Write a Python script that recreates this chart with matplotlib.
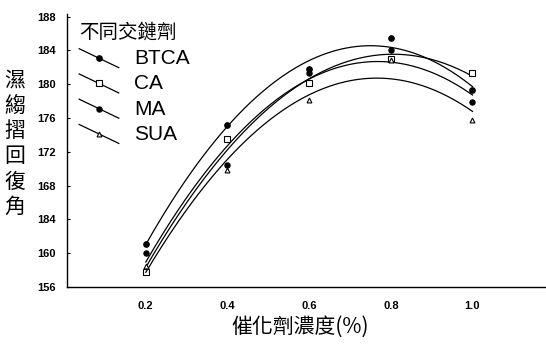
"""Wrinkle recovery angle vs. catalyst concentration for four crosslinkers."""

import matplotlib.pyplot as plt
import numpy as np
from matplotlib.legend_handler import HandlerLine2D
from matplotlib.lines import Line2D

plt.rcParams["font.family"] = ["Liberation Sans", "DejaVu Sans"]
CJK = ["Noto Sans CJK TC", "DejaVu Sans"]

concentration = [0.2, 0.4, 0.6, 0.8, 1.0]
btca = [161.1, 175.2, 181.8, 185.5, 179.3]
ca = [157.8, 173.5, 180.1, 183.0, 181.3]
ma = [160.0, 170.4, 181.3, 184.0, 177.9]
sua = [158.5, 169.8, 178.1, 182.8, 175.8]

series_names = ["BTCA", "CA", "MA", "SUA"]
y_ticks = [156, 160, 164, 168, 172, 176, 180, 184, 188]
y_tick_labels = ["156", "160", "184", "168", "172", "176", "180", "184", "188"]
x_ticks = [0.2, 0.4, 0.6, 0.8, 1.0]
x_tick_labels = ["0.2", "0.4", "0.6", "0.8", "1.0"]


class SlantHandler(HandlerLine2D):
    """Legend handle drawn as a short falling line with the marker in the middle."""

    def create_artists(self, legend, orig_handle, xdescent, ydescent,
                       width, height, fontsize, trans):
        x0, x1 = -xdescent, -xdescent + width
        y0, y1 = -ydescent + height * 1.05, -ydescent - height * 0.25
        line = Line2D([x0, x1], [y0, y1], color="black", lw=0.9, transform=trans)
        mark = Line2D([(x0 + x1) / 2], [(y0 + y1) / 2], linestyle="none",
                      marker=orig_handle.get_marker(),
                      markersize=orig_handle.get_markersize(),
                      markerfacecolor=orig_handle.get_markerfacecolor(),
                      markeredgecolor="black", markeredgewidth=0.8,
                      transform=trans)
        return [line, mark]


fig = plt.figure(figsize=(5.46, 3.46), dpi=100)
ax = fig.add_axes([0.1227, 0.1705, 0.8773, 0.789])

styles = [
    dict(marker="o", mfc="black", ms=4),
    dict(marker="s", mfc="white", ms=4),
    dict(marker="o", mfc="black", ms=3.8),
    dict(marker="^", mfc="white", ms=3.5),
]

handles = []
xs = np.array(concentration)
x_fine = np.linspace(0.2, 1.0, 200)
for name, vals, st in zip(series_names, [btca, ca, ma, sua], styles):
    coef = np.polyfit(xs, vals, 2)
    ax.plot(x_fine, np.polyval(coef, x_fine), color="black", lw=0.9)
    ax.plot(xs, vals, linestyle="none", marker=st["marker"], markersize=st["ms"],
            markerfacecolor=st["mfc"], markeredgecolor="black", markeredgewidth=0.8)
    handles.append(Line2D([], [], color="black", marker=st["marker"],
                          markersize=st["ms"], markerfacecolor=st["mfc"], label=name))

ax.set_xlim(0.007, 1.18)
ax.set_ylim(156, 188.3)
ax.set_xticks(x_ticks)
ax.set_xticklabels(x_tick_labels, fontsize=8, fontweight="bold")
ax.set_yticks(y_ticks)
ax.set_yticklabels(y_tick_labels, fontsize=8, fontweight="bold")
ax.tick_params(axis="both", direction="in", length=2, width=0.8, pad=8)
ax.tick_params(axis="x", length=0, pad=10)
for side in ("top", "right"):
    ax.spines[side].set_visible(False)
for side in ("left", "bottom"):
    ax.spines[side].set_linewidth(1.0)

leg = ax.legend(handles=handles, loc="upper left", bbox_to_anchor=(-0.005, 1.025),
                frameon=False, fontsize=15, title="不同交鏈劑",
                title_fontproperties={"family": CJK, "size": 14},
                handler_map={Line2D: SlantHandler()},
                handlelength=1.9, handletextpad=0.75, labelspacing=0.3,
                borderpad=0.2, alignment="left")

fig.text(0.027, 0.585, "\n".join("濕縐摺回復角"), family=CJK, fontsize=15,
         ha="center", va="center", linespacing=1.2)
fig.text(0.55, 0.055, "催化劑濃度(%)", family=CJK, fontsize=15,
         ha="center", va="center")

fig.savefig("out.png", dpi=100)
